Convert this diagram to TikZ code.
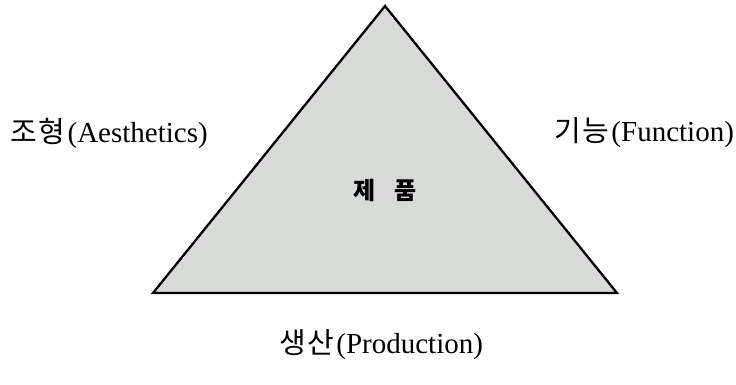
\documentclass[tikz,border=0pt]{standalone}
\usepackage{fontspec}
\setmainfont{Liberation Serif}
\newfontfamily\kor{Noto Sans CJK KR}
\definecolor{trifill}{RGB}{215,218,215}
\newcommand{\kk}[2]{{\kor #1\kern2pt #2\kern2pt}}
\begin{document}
\begin{tikzpicture}[x=1pt,y=-1pt,
  lbl/.style={font=\fontsize{29}{33}\selectfont, inner sep=0pt, anchor=center},
  tri/.style={draw=black, line width=2.3pt, fill=trifill, line join=miter}]
\useasboundingbox (0,0) rectangle (736,384);
\coordinate (top) at (385,6);
\coordinate (bl) at (153,293);
\coordinate (br) at (617,293);
\draw[tri] (top) -- (bl) -- (br) -- cycle;
\node[lbl, font=\kor\bfseries\fontsize{24}{28}\selectfont] (prod) at (385,190) {제\hspace{0.8em}품};
\node[lbl] (aes) at (109,133) {\kk{조}{형}(Aesthetics)};
\node[lbl] (fun) at (644,133) {\kk{기}{능}(Function)};
\node[lbl] (pro) at (381,345) {\kk{생}{산}(Production)};
\end{tikzpicture}
\end{document}
